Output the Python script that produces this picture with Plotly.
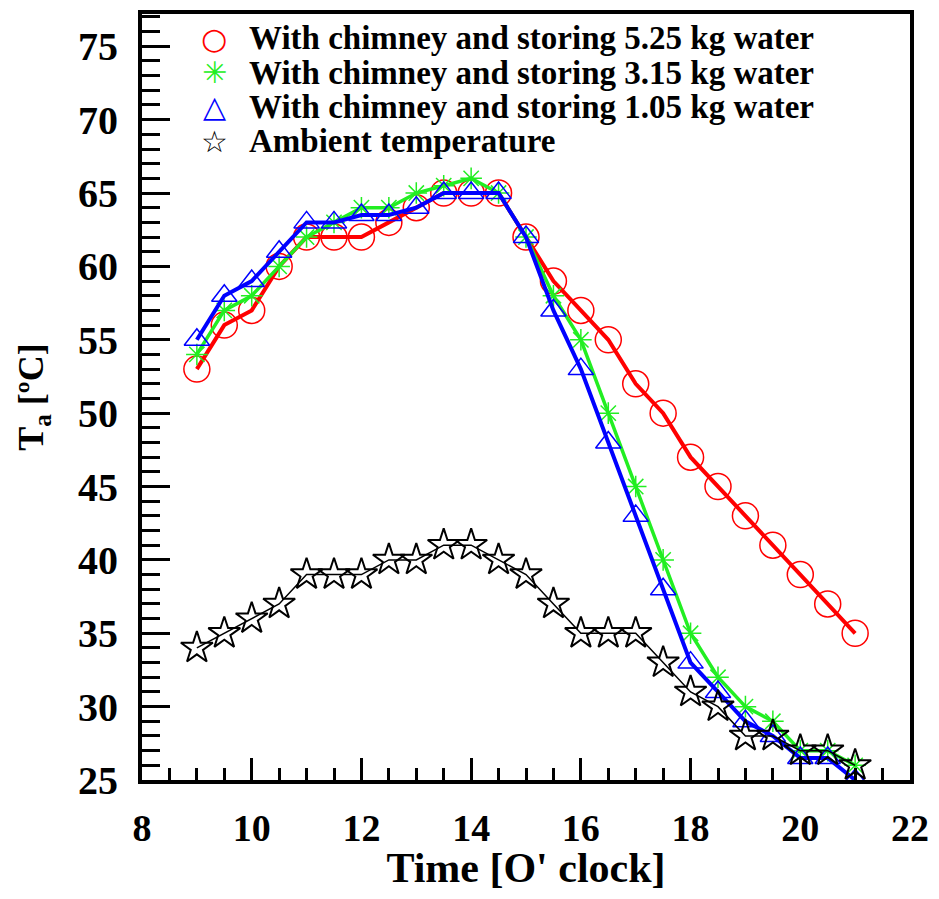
import plotly.graph_objects as go

# hours of the day (every half hour)
time_h = [9, 9.5, 10, 10.5, 11, 11.5, 12, 12.5, 13, 13.5, 14, 14.5, 15,
          15.5, 16, 16.5, 17, 17.5, 18, 18.5, 19, 19.5, 20, 20.5, 21]

# air temperature, chimney + 5.25 kg water storage
t_525 = [53, 56, 57, 60, 62, 62, 62, 63, 64, 65, 65, 65, 62,
         59, 57, 55, 52, 50, 47, 45, 43, 41, 39, 37, 35]

# chimney + 3.15 kg water storage
t_315 = [54, 57, 58, 60, 62, 63, 64, 64, 65, 65.5, 66, 65, 62,
         58, 55, 50, 45, 40, 35, 32, 30, 29, 27, 27, 26]

# chimney + 1.05 kg water storage
t_105 = [55, 58, 59, 61, 63, 63, 63.5, 63.5, 64, 65, 65, 65, 62,
         57, 53, 48, 43, 38, 33, 31, 29, 28, 26.5, 26.5, 25]

# ambient
t_amb = [34, 35, 36, 37, 39, 39, 39, 40, 40, 41, 41, 40, 39,
         37, 35, 35, 35, 33, 31, 30, 28, 28, 27, 27, 26]

legend_names = [
    "With chimney and storing 5.25 kg water",
    "With chimney and storing 3.15 kg water",
    "With chimney and storing 1.05 kg water",
    "Ambient temperature",
]
legend_glyphs = ["○", "✳", "△", "☆"]

series = [
    (t_525, "red", 4, "circle-open", 26, 1.5),
    (t_315, "#22ee22", 3.5, "asterisk-open", 18, 1.5),
    (t_105, "blue", 4, "triangle-up-open", 22, 1.5),
    (t_amb, "black", 1.5, "star-open", 24, 2),
]

fig = go.Figure()

for (vals, col, lw, sym, ms, mlw), name in zip(series, legend_names):
    fig.add_trace(go.Scatter(
        x=time_h, y=vals, mode="lines+markers", name=name, showlegend=False,
        line=dict(color=col, width=lw),
        marker=dict(symbol=sym, size=ms, color=col, line=dict(color=col, width=mlw)),
    ))

# legend drawn as text rows so the spacing matches the original
row_y = [0.9686, 0.9232, 0.879, 0.8336]
for (vals, col, *_), name, glyph, yy in zip(series, legend_names, legend_glyphs, row_y):
    fig.add_annotation(
        x=0.094, y=yy, xref="paper", yref="paper", xanchor="center", yanchor="middle",
        text=glyph, showarrow=False,
        font=dict(family="DejaVu Sans", size=30, color=col),
    )
    fig.add_annotation(
        x=0.137, y=yy, xref="paper", yref="paper", xanchor="left", yanchor="middle",
        text=name, showarrow=False,
        font=dict(family="Liberation Serif", size=33, color="black", weight="bold"),
    )

font_main = "Liberation Serif"

# page body keeps its 8px margin, so the figure is 16px smaller than the window
fig.update_layout(
    width=923, height=883,
    margin=dict(l=134, r=20, t=2, b=111),
    paper_bgcolor="white", plot_bgcolor="white",
    font=dict(family=font_main, color="black"),
    showlegend=False,
    xaxis=dict(
        range=[8, 22], dtick=2, tick0=8,
        ticks="inside", ticklen=22, tickwidth=3, tickcolor="black",
        minor=dict(dtick=0.5, ticks="inside", ticklen=12, tickwidth=3, tickcolor="black"),
        showline=True, linecolor="black", linewidth=4, mirror=True,
        showgrid=False, zeroline=False,
        tickfont=dict(family=font_main, size=38, weight="bold"),
        ticklabelstandoff=11, ticklabeloverflow="allow",
        title=dict(text="Time [O' clock]", standoff=9,
                   font=dict(family=font_main, size=42, weight="bold")),
    ),
    yaxis=dict(
        range=[25, 77.2], dtick=5, tick0=25,
        ticks="inside", ticklen=28, tickwidth=3, tickcolor="black",
        minor=dict(dtick=1, ticks="inside", ticklen=18, tickwidth=3, tickcolor="black"),
        showline=True, linecolor="black", linewidth=4, mirror=True,
        showgrid=False, zeroline=False,
        tickfont=dict(family=font_main, size=40, weight="bold"),
        ticklabelstandoff=12, ticklabeloverflow="allow",
        title=dict(text="T<sub>a</sub> [ºC]", standoff=24,
                   font=dict(family=font_main, size=36, weight="bold")),
    ),
)

fig.write_html("out.html", config={"displayModeBar": False})
